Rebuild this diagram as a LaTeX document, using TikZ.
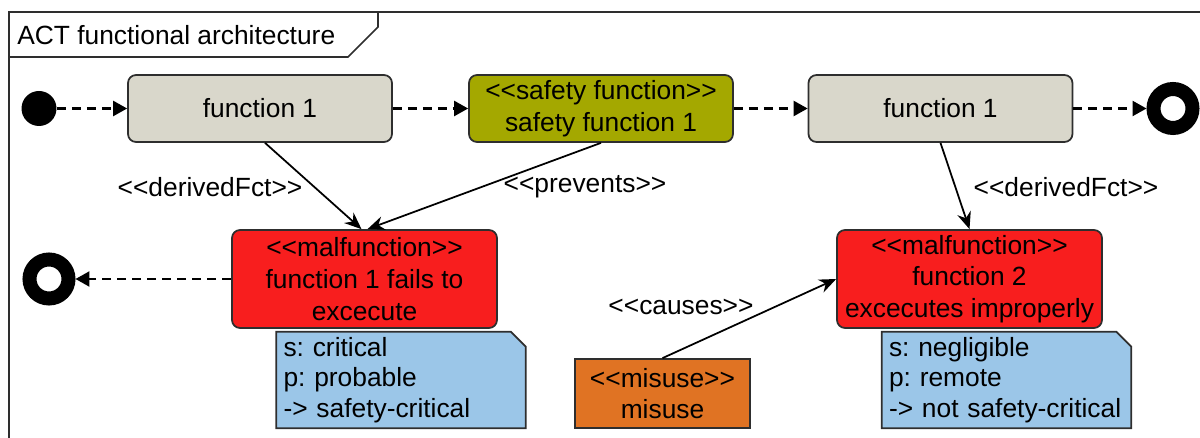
\documentclass[tikz,border=0pt]{standalone}
\usepackage{fontspec}
\setmainfont{Liberation Sans}[Ligatures=TeXOff]
\usepackage{tikz}
\usetikzlibrary{arrows.meta,calc,backgrounds}
\definecolor{frameline}{HTML}{2E2E2E}
\definecolor{fctgrey}{HTML}{D9D7CB}
\definecolor{safeolive}{HTML}{A4A800}
\definecolor{malred}{HTML}{F81E1E}
\definecolor{misorange}{HTML}{E07323}
\definecolor{noteblue}{HTML}{9BC6E8}

\tikzset{
  actbox/.style={rectangle,rounded corners=0.16cm,draw=frameline,line width=1pt,minimum width=5.28cm,align=center,inner sep=2pt},
  fctbox/.style={actbox,fill=fctgrey,minimum height=1.34cm},
  safebox/.style={actbox,fill=safeolive,minimum height=1.34cm},
  malbox/.style={actbox,fill=malred,minimum width=5.3cm,minimum height=1.96cm},
  misbox/.style={rectangle,draw=frameline,line width=1pt,fill=misorange,minimum width=3.5cm,minimum height=1.38cm,align=center,inner sep=2pt},
  notetext/.style={rectangle,minimum height=1.92cm,text width=4.7cm,align=left,inner ysep=0pt,inner xsep=0.14cm,font=\fontsize{15pt}{17.5pt}\selectfont\frenchspacing},
  notefold/.style={fill=noteblue,draw=frameline,line width=1pt},
  flow/.style={-{Triangle[length=0.28cm,width=0.3cm]},dash pattern=on 0.18cm off 0.12cm,line width=1.3pt},
  rel/.style={-{Stealth[length=0.34cm,width=0.28cm]},line width=1pt},
  finalnode/.style={circle,draw,line width=0.28cm,minimum size=0.78cm,inner sep=0pt},
  lbl/.style={inner sep=1pt}
}

\begin{document}
\begin{tikzpicture}[x=0.02cm,y=-0.02cm,font=\fontsize{15pt}{18pt}\selectfont]
\useasboundingbox (0,0) rectangle (1200,438);
% frame and its name tab
\draw[frameline,line width=1pt] (1200,12) -- (9,12) -- (9,438);
\draw[frameline,line width=1pt] (9,57) -- (348,57) -- (378,27) -- (378,12);
\node[anchor=west,inner sep=0pt] (title) at (17,35) {ACT functional architecture};

% upper flow
\node[circle,fill=black,minimum size=0.7cm,inner sep=0pt] (start) at (39,108.5) {};
\node[fctbox] (fn1) at (260,108.5) {function 1};
\node[safebox] (safe) at (601,108.5) {<<safety function>>\\safety function 1};
\node[fctbox] (fn3) at (940.5,108.5) {function 1};
\node[finalnode] (end1) at (1173,108.5) {};
\draw[flow] (start.east) -- (fn1.west);
\draw[flow] (fn1.east) -- (safe.west);
\draw[flow] (safe.east) -- (fn3.west);
\draw[flow] (fn3.east) -- (end1.west);

% malfunctions
\node[malbox] (m1) at (364.5,279) {<<malfunction>>\\function 1 fails to\\excecute};
\node[malbox] (m2) at (969.5,279) {<<malfunction>>\\function 2\\excecutes improperly};
\node[finalnode] (end2) at (49,279) {};
\draw[flow] (m1.west) -- (end2.east);
\node[misbox] (mis) at (662.5,393.5) {<<misuse>>\\misuse};

\draw[rel] ($(fn1.south)+(5,0)$) -- ($(m1.north)+(-3,0)$);
\draw[rel] (safe.south) -- ($(m1.north)+(3,0)$);
\draw[rel] (fn3.south) -- (m2.north);
\draw[rel] (mis.north) -- (m2.west);
\node[lbl] (lderived) at (210,187) {<<derivedFct>>};
\node[lbl] (lprevents) at (585,187) {<<prevents>>};
\node[lbl] (rderived) at (1066,187) {<<derivedFct>>};
\node[lbl] (lcauses) at (681,307) {<<causes>>};

% notes
\node[notetext] (n1) at (401,380) {s: critical\\p: probable\\-> safety-critical};
\node[notetext] (n2) at (1006.5,380) {s: negligible\\p: remote\\-> not safety-critical};
\begin{scope}[on background layer]
\filldraw[notefold] (n1.south west) -- (n1.north west) -- ([xshift=-0.3cm]n1.north east) -- ([yshift=-0.3cm]n1.north east) -- (n1.south east) -- cycle;
\filldraw[notefold] (n2.south west) -- (n2.north west) -- ([xshift=-0.3cm]n2.north east) -- ([yshift=-0.3cm]n2.north east) -- (n2.south east) -- cycle;
\end{scope}
\end{tikzpicture}
\end{document}
